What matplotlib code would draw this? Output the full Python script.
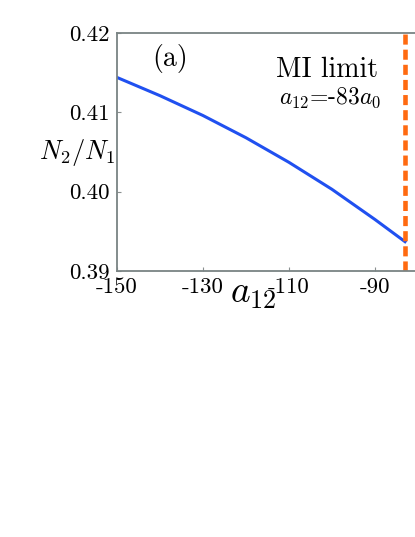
import matplotlib
matplotlib.use('Agg')
import matplotlib.pyplot as plt

plt.rcParams['font.family'] = 'cmr10'
plt.rcParams['mathtext.fontset'] = 'cm'
plt.rcParams['axes.unicode_minus'] = False

# ratio N2/N1
a12 = [-150, -140, -130, -120, -110, -100, -90, -83]
ratio = [0.4144, 0.4121, 0.4096, 0.4068, 0.4037, 0.4003, 0.3965, 0.3937]
mi_limit = -83

xticks = [-150, -130, -110, -90]
xticklabels = ['-150', '-130', '-110', '-90']
yticks = [0.39, 0.40, 0.41, 0.42]
yticklabels = ['0.39', '0.40', '0.41', '0.42']

fig = plt.figure(figsize=(4.15, 5.37), dpi=100)
ax = fig.add_axes([0.282, 0.4953, 0.725, 0.4432])

ax.plot(a12, ratio, color='#2050f0', lw=2.2)
ax.axvline(mi_limit, color='#ff6a10', lw=3.3, dashes=(2.2, 1.1))

ax.set_xlim(-150, -80)
ax.set_ylim(0.39, 0.42)
ax.set_xticks(xticks)
ax.set_xticklabels(xticklabels)
ax.set_yticks(yticks)
ax.set_yticklabels(yticklabels)
ax.tick_params(direction='in', length=3, width=0.8, color='#8a9090',
               labelsize=16.5, pad=5)

for s in ax.spines.values():
    s.set_color('#7a8484')
    s.set_linewidth(1.3)

ax.set_ylabel(r'$N_2/N_1$', fontsize=19, rotation=0, ha='center', va='center')
ax.yaxis.set_label_coords(-0.133, 0.496)
ax.set_xlabel(r'$a_{12}$', fontsize=27, ha='center', va='center')
ax.xaxis.set_label_coords(0.452, -0.1)

ax.text(-137.7, 0.41685, '(a)', fontsize=20, ha='center', va='center')
ax.text(-101.2, 0.4153, 'MI limit', fontsize=20, ha='center', va='center')
ax.text(-100.5, 0.4118, r'$a_{12}$=-83$a_0$', fontsize=17, ha='center', va='center')

fig.savefig('out.png', dpi=100)
